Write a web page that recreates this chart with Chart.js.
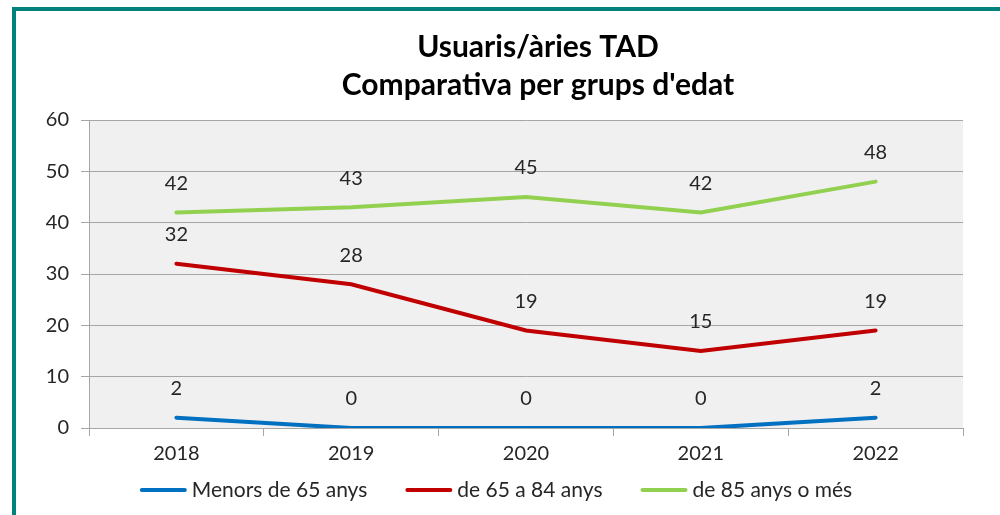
<!DOCTYPE html>
<html>
<head>
<meta charset="utf-8">
<script src="https://cdn.jsdelivr.net/npm/chart.js@4.4.0/dist/chart.umd.min.js"></script>
<style>
  body { margin: 0; background: #fff; overflow: hidden; }
  #frame {
    position: absolute; left: 12px; top: 7px;
    width: 1000px; height: 600px;
    border: 4px solid #00827f;
  }
  #wrap { position: absolute; left: 0; top: 0; width: 1000px; height: 515px; }
</style>
</head>
<body>
<div id="frame"></div>
<div id="wrap"><canvas id="chart" width="1000" height="515"></canvas></div>
<script>
const years = ["2018", "2019", "2020", "2021", "2022"];
const menors65 = [2, 0, 0, 0, 2];
const de65a84 = [32, 28, 19, 15, 19];
const de85mes = [42, 43, 45, 42, 48];
const yTicks = [0, 10, 20, 30, 40, 50, 60];
const titleLines = ["Usuaris/àries TAD", "Comparativa per grups d'edat"];

const FONT = "Lato, 'Open Sans', sans-serif";
const TEXT = "#262626";
const GRID = "#a6a6a6";

// gray plot background like the original
const plotBg = {
  id: "plotBg",
  beforeDraw(chart) {
    const a = chart.chartArea;
    const ctx = chart.ctx;
    ctx.save();
    ctx.fillStyle = "#f0f0f0";
    ctx.fillRect(a.left, a.top, a.right - a.left, a.bottom - a.top);
    ctx.restore();
  }
};

// title sits right of centre in the original, so draw it by hand
const topTitle = {
  id: "topTitle",
  afterDraw(chart) {
    const ctx = chart.ctx;
    ctx.save();
    ctx.font = "bold 30px " + FONT;
    ctx.fillStyle = "#000";
    ctx.textAlign = "center";
    ctx.textBaseline = "middle";
    titleLines.forEach((t, i) => ctx.fillText(t, 538, 47 + i * 38));
    ctx.restore();
  }
};

// value labels above each point
const valueLabels = {
  id: "valueLabels",
  afterDatasetsDraw(chart) {
    const ctx = chart.ctx;
    ctx.save();
    ctx.font = "20px " + FONT;
    ctx.fillStyle = TEXT;
    ctx.textAlign = "center";
    ctx.textBaseline = "middle";
    chart.data.datasets.forEach((ds, i) => {
      chart.getDatasetMeta(i).data.forEach((pt, j) => {
        ctx.fillText(String(ds.data[j]), pt.x, pt.y - 29);
      });
    });
    ctx.restore();
  }
};

// simple legend row at the bottom (built-in legend pads too much vertically)
const bottomLegend = {
  id: "bottomLegend",
  afterDraw(chart) {
    const ctx = chart.ctx;
    const lineW = 47, gapText = 5, gapItem = 38, y = 490;
    ctx.save();
    ctx.font = "21px " + FONT;
    ctx.textBaseline = "middle";
    ctx.textAlign = "left";
    const items = chart.data.datasets.map(ds => ({
      label: ds.label, color: ds.borderColor, w: ctx.measureText(ds.label).width
    }));
    let total = 0;
    items.forEach((it, i) => {
      total += lineW + gapText + it.w + (i < items.length - 1 ? gapItem : 0);
    });
    let x = (chart.width - total) / 2 - 4;
    items.forEach(it => {
      ctx.strokeStyle = it.color;
      ctx.lineWidth = 4;
      ctx.lineCap = "round";
      ctx.beginPath();
      ctx.moveTo(x + 2, y);
      ctx.lineTo(x + lineW - 2, y);
      ctx.stroke();
      ctx.fillStyle = TEXT;
      ctx.fillText(it.label, x + lineW + gapText, y);
      x += lineW + gapText + it.w + gapItem;
    });
    ctx.restore();
  }
};

function series(label, data, color) {
  return {
    label: label,
    data: data,
    borderColor: color,
    backgroundColor: color,
    borderWidth: 4,
    pointRadius: 0,
    tension: 0,
    borderCapStyle: "round"
  };
}

new Chart(document.getElementById("chart"), {
  type: "line",
  data: {
    labels: years,
    datasets: [
      series("Menors de 65 anys", menors65, "#0070c0"),
      series("de 65 a 84 anys", de65a84, "#c00000"),
      series("de 85 anys o més", de85mes, "#92d050")
    ]
  },
  options: {
    responsive: false,
    animation: false,
    layout: { padding: { left: 0, right: 37, top: 120, bottom: 39 } },
    plugins: {
      title: { display: false },
      legend: { display: false },
      tooltip: { enabled: false }
    },
    scales: {
      x: {
        offset: true,
        grid: {
          offset: true,
          drawOnChartArea: false,
          drawTicks: true,
          tickLength: 8,
          color: GRID
        },
        border: { display: true, color: GRID },
        ticks: { color: TEXT, font: { family: FONT, size: 20 }, padding: 6 },
        afterFit(scale) { scale.height = 48; }
      },
      y: {
        min: 0,
        max: 60,
        afterBuildTicks(scale) { scale.ticks = yTicks.map(v => ({ value: v })); },
        grid: { color: GRID, tickLength: 8 },
        border: { display: true, color: GRID },
        ticks: { color: TEXT, font: { family: FONT, size: 20 }, padding: 12 },
        afterFit(scale) { scale.width = 89; }
      }
    }
  },
  plugins: [plotBg, valueLabels, bottomLegend, topTitle]
});
</script>
</body>
</html>
